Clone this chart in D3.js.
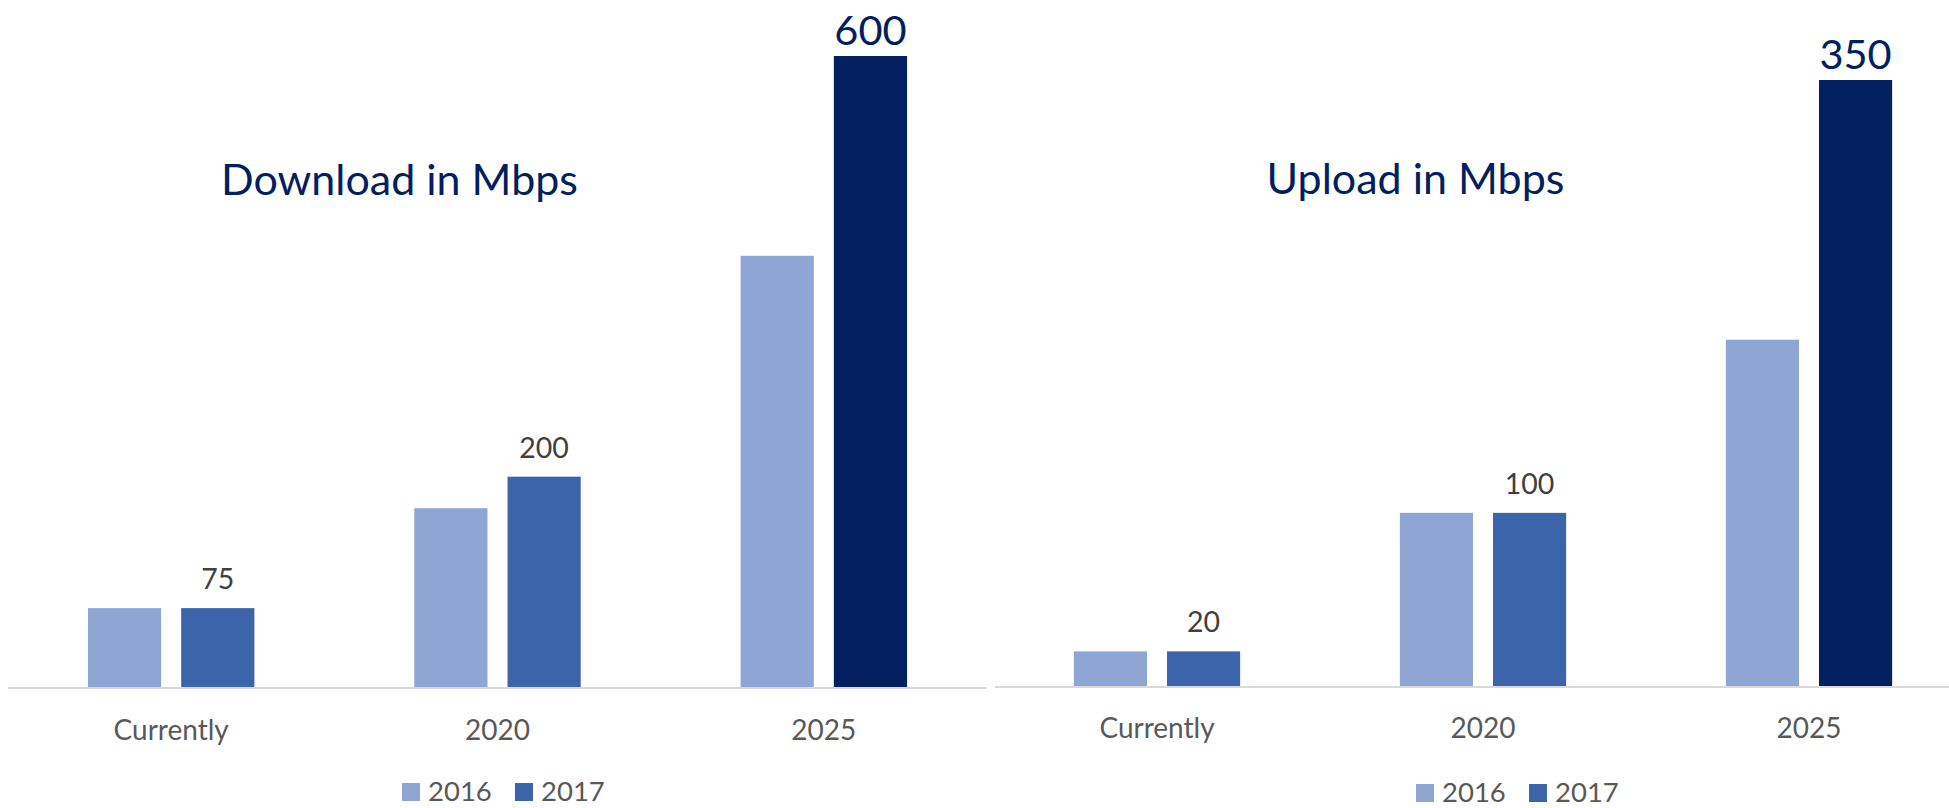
<!DOCTYPE html>
<html>
<head>
<meta charset="utf-8">
<script src="https://cdn.jsdelivr.net/npm/d3@7"></script>
<style>
  html, body { margin: 0; padding: 0; background: #fff; }
  svg { display: block; font-family: Lato, "Open Sans", sans-serif; }
</style>
</head>
<body>
<svg id="chart" width="1949" height="808"></svg>
<script>
// Categories and series
const categories = ["Currently", "2020", "2025"];
const seriesNames = ["2016", "2017"];

// Download speeds (Mbps)
const download2016 = [75, 170, 410];
const download2017 = [75, 200, 600];

// Upload speeds (Mbps)
const upload2016 = [20, 100, 200];
const upload2017 = [20, 100, 350];

const seriesColors = ["#8FA5D4", "#3C64AA"];
const highlightColor = "#02205F";

const svg = d3.select("#chart");

function drawPanel(opts) {
  const g = svg.append("g");
  const values = [opts.s2016, opts.s2017];

  const x = d3.scaleBand()
    .domain(categories)
    .range(opts.xRange)
    .paddingInner(0.49)
    .paddingOuter(0.245);

  const xs = d3.scaleBand()
    .domain(seriesNames)
    .range([0, x.bandwidth()])
    .paddingInner(0.215)
    .paddingOuter(0);

  const y = d3.scaleLinear()
    .domain([0, opts.yMax])
    .range([opts.baseY, opts.topY]);

  const last = categories.length - 1;

  // Bars
  seriesNames.forEach((s, si) => {
    g.selectAll(null)
      .data(values[si])
      .enter()
      .append("rect")
      .attr("x", (d, i) => x(categories[i]) + xs(s))
      .attr("y", d => y(d))
      .attr("width", xs.bandwidth())
      .attr("height", d => y(0) - y(d))
      .attr("fill", (d, i) => (si === 1 && i === last) ? highlightColor : seriesColors[si]);
  });

  // Axis line
  g.append("line")
    .attr("x1", opts.lineX[0])
    .attr("x2", opts.lineX[1])
    .attr("y1", y(0) + 1)
    .attr("y2", y(0) + 1)
    .attr("stroke", "#D9D9D9")
    .attr("stroke-width", 2.2);

  // Category labels
  const xAxis = d3.axisBottom(x).tickSize(0).tickPadding(0);
  const ax = g.append("g")
    .attr("transform", `translate(0,${opts.catBaseline})`)
    .call(xAxis);
  ax.select(".domain").remove();
  ax.selectAll("text")
    .attr("dy", 0)
    .attr("font-family", "Lato, sans-serif")
    .attr("font-size", 28)
    .attr("fill", "#595959");

  // Value labels on the 2017 series
  g.selectAll(null)
    .data(opts.s2017)
    .enter()
    .append("text")
    .attr("x", (d, i) => x(categories[i]) + xs("2017") + xs.bandwidth() / 2)
    .attr("y", (d, i) => i === last ? y(d) - 11.5 : y(d) - 19)
    .attr("text-anchor", "middle")
    .attr("font-size", (d, i) => i === last ? 41.5 : 28.5)
    .attr("fill", (d, i) => i === last ? highlightColor : "#404040")
    .text(d => d);

  // Title
  g.append("text")
    .attr("x", opts.titleX)
    .attr("y", opts.titleY)
    .attr("text-anchor", "middle")
    .attr("font-size", 43)
    .attr("fill", highlightColor)
    .text(opts.title);

  // Legend
  const leg = g.append("g")
    .attr("transform", `translate(${opts.legendX},${opts.legendY})`);
  const legOffsets = [0, 113];
  seriesNames.forEach((s, si) => {
    leg.append("rect")
      .attr("x", legOffsets[si])
      .attr("y", -18)
      .attr("width", 18)
      .attr("height", 18)
      .attr("fill", seriesColors[si]);
    leg.append("text")
      .attr("x", legOffsets[si] + 26)
      .attr("y", 0)
      .attr("font-size", 27.5)
      .attr("fill", "#595959")
      .text(s);
  });
}

drawPanel({
  title: "Download in Mbps",
  s2016: download2016,
  s2017: download2017,
  xRange: [8, 987],
  lineX: [8, 987],
  yMax: 600,
  baseY: 687,
  topY: 56,
  catBaseline: 740,
  titleX: 399.5,
  titleY: 195,
  legendX: 402,
  legendY: 801
});

drawPanel({
  title: "Upload in Mbps",
  s2016: upload2016,
  s2017: upload2017,
  xRange: [994, 1972],
  lineX: [995, 1949],
  yMax: 350,
  baseY: 686,
  topY: 80,
  catBaseline: 738,
  titleX: 1415.5,
  titleY: 194,
  legendX: 1416,
  legendY: 802
});
</script>
</body>
</html>
